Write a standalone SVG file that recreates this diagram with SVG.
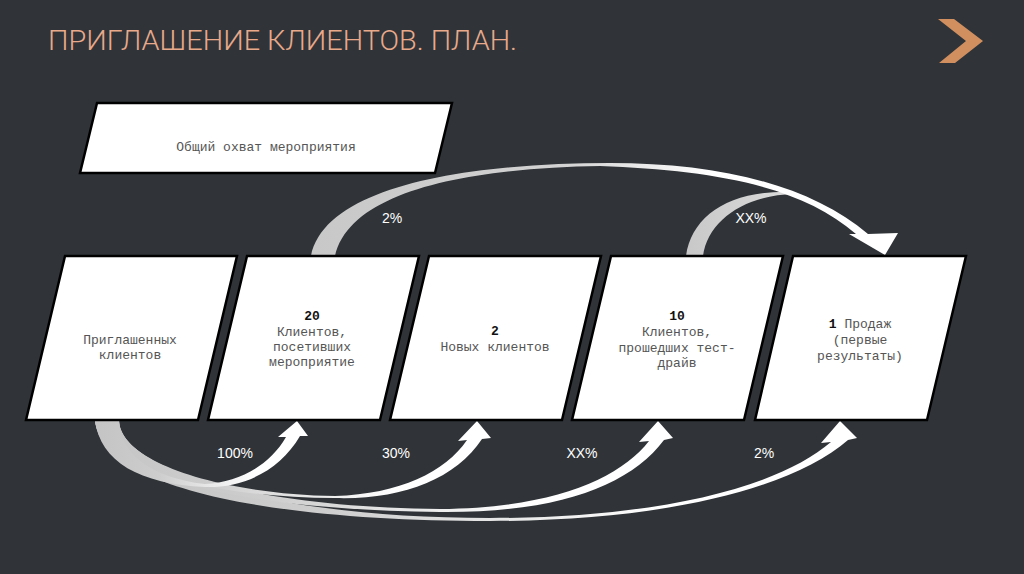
<svg xmlns="http://www.w3.org/2000/svg" width="1024" height="574" viewBox="0 0 1024 574">
<defs>
<style>
.box{fill:#ffffff;stroke:#000000;stroke-width:2.5;stroke-linejoin:miter}
.t{font-family:"Liberation Mono","Courier New",monospace;font-size:13px;fill:#555555;text-anchor:middle}
.n{font-family:"Liberation Mono","Courier New",monospace;font-size:13px;font-weight:bold;fill:#111111}
.pct{font-family:"Liberation Sans",Arial,sans-serif;font-size:14px;fill:#ffffff;text-anchor:middle}
</style>
<linearGradient id="gBig" gradientUnits="userSpaceOnUse" x1="311" y1="0" x2="868" y2="0">
<stop offset="0" stop-color="#c8c8c8"/>
<stop offset="0.45" stop-color="#d2d2d2"/>
<stop offset="0.72" stop-color="#ffffff"/>
</linearGradient>
<linearGradient id="gSmall" gradientUnits="userSpaceOnUse" x1="686" y1="0" x2="795" y2="0">
<stop offset="0" stop-color="#c8c8c8"/>
<stop offset="1" stop-color="#dcdcdc"/>
</linearGradient>
<linearGradient id="gBot" x1="0" y1="0" x2="1" y2="0">
<stop offset="0" stop-color="#c4c4c4"/>
<stop offset="0.3" stop-color="#cdcdcd"/>
<stop offset="0.75" stop-color="#ffffff"/>
</linearGradient>
</defs>
<rect width="1024" height="574" fill="#303438"/>

<g id="title">
<text x="48" y="50" font-family="Roboto,'Liberation Sans',sans-serif" font-weight="300" font-size="27" fill="#e9a98a" textLength="469" lengthAdjust="spacingAndGlyphs">ПРИГЛАШЕНИЕ КЛИЕНТОВ. ПЛАН.</text>
<polygon points="938,19 954,19 983,41 955,63 939,63 966,41" fill="#d18f5f"/>
</g>

<g id="connectors">
<path d="M686,256 C692,215 730,190 792,192 L794,194 C745,195 708,220 703,256 Z" fill="url(#gSmall)"/>
<path d="M311,256 C325,185 470,163 610,163 C720,163 810,185 868,234 L898,233 L885,255 L849,234 L856,234 C800,185 710,170 600,166 C470,168 350,190 335,256 Z" fill="url(#gBig)"/>
<path d="M95,420 C100,488 270,521 490,521 C660,521 790,490 848,440 L857,438 L840,421 L821,443 L831,442 C775,490 650,518 490,518 C270,518 119,470 119,420 Z" fill="url(#gBot)"/>
<path d="M95,420 C100,478 250,510 440,512 C560,513 630,485 664,440 L673,438 L658,421 L639,442 L649,441 C620,478 555,508 440,509 C250,507 119,468 119,420 Z" fill="url(#gBot)"/>
<path d="M95,420 C100,470 210,497 335,498 C400,500 455,480 482,439 L491,438 L477,421 L458,441 L467,440 C445,472 400,494 335,496 C220,494 119,462 119,420 Z" fill="url(#gBot)"/>
<path d="M95,420 C100,462 140,484 205,487 C245,488 280,470 300,436 L308,436 L297,421 L278,437 L286,437 C270,465 240,482 205,484 C150,478 119,452 119,420 Z" fill="url(#gBot)"/>
<text class="pct" x="392" y="223">2%</text>
<text class="pct" x="751" y="223">XX%</text>
<text class="pct" x="235" y="458">100%</text>
<text class="pct" x="396" y="458">30%</text>
<text class="pct" x="582" y="458">XX%</text>
<text class="pct" x="764" y="458">2%</text>
</g>

<g id="node-reach">
<polygon class="box" points="97,103 452,103 435,173 80,173"/>
<text class="t" x="266" y="151">Общий охват мероприятия</text>
</g>

<g id="node-invited">
<polygon class="box" points="65,256 237,256 198,420 26,420"/>
<text class="t" x="130" y="344">Приглашенных</text>
<text class="t" x="130" y="359">клиентов</text>
</g>

<g id="node-visited">
<polygon class="box" points="247,256 419,256 380,420 208,420"/>
<text class="t" x="312" y="320"><tspan class="n">20</tspan></text>
<text class="t" x="312" y="336">Клиентов,</text>
<text class="t" x="312" y="351">посетивших</text>
<text class="t" x="312" y="366">мероприятие</text>
</g>

<g id="node-new">
<polygon class="box" points="429,256 601,256 562,420 390,420"/>
<text class="t" x="495" y="335"><tspan class="n">2</tspan></text>
<text class="t" x="495" y="351">Новых клиентов</text>
</g>

<g id="node-testdrive">
<polygon class="box" points="611,256 783,256 744,420 572,420"/>
<text class="t" x="677" y="320"><tspan class="n">10</tspan></text>
<text class="t" x="677" y="336">Клиентов,</text>
<text class="t" x="677" y="352">прошедших тест-</text>
<text class="t" x="677" y="367">драйв</text>
</g>

<g id="node-sales">
<polygon class="box" points="793,256 966,256 927,420 755,420"/>
<text class="t" x="860" y="328"><tspan class="n">1</tspan> Продаж</text>
<text class="t" x="860" y="344">(первые</text>
<text class="t" x="860" y="360">результаты)</text>
</g>
</svg>
